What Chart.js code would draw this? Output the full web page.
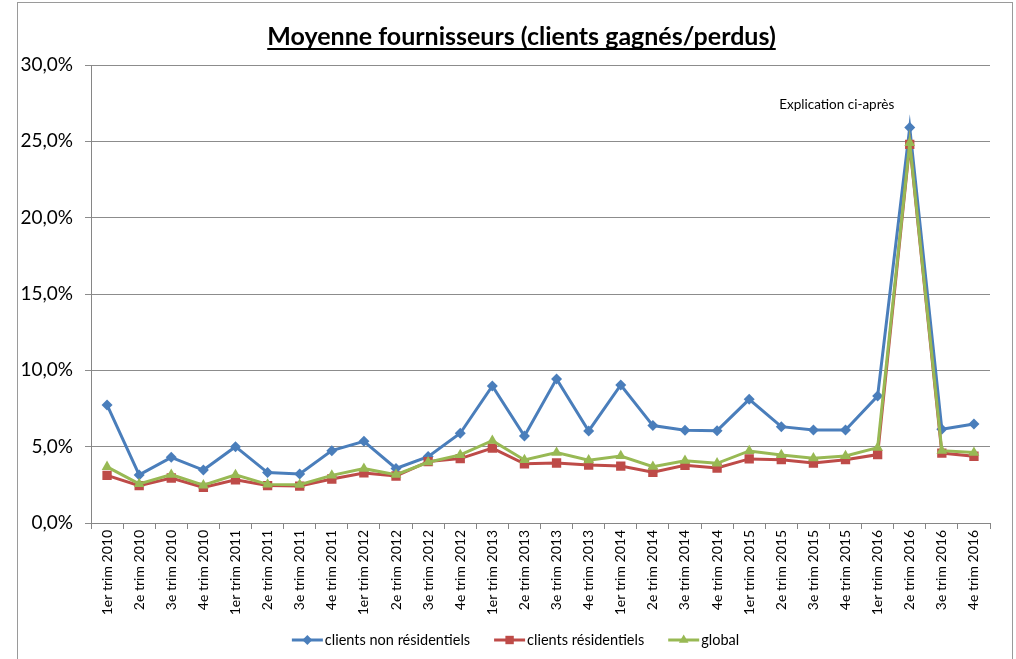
<!DOCTYPE html>
<html>
<head>
<meta charset="utf-8">
<style>
  html, body { margin: 0; padding: 0; background: #ffffff; }
  #wrap { width: 1016px; height: 659px; position: relative; }
</style>
<script src="https://cdn.jsdelivr.net/npm/chart.js@4.4.1/dist/chart.umd.min.js"></script>
</head>
<body>
<div id="wrap"><canvas id="c" width="1016" height="659"></canvas></div>
<script>
const categories = [
  "1er trim 2010", "2e trim 2010", "3e trim 2010", "4e trim 2010",
  "1er trim 2011", "2e trim 2011", "3e trim 2011", "4e trim 2011",
  "1er trim 2012", "2e trim 2012", "3e trim 2012", "4e trim 2012",
  "1er trim 2013", "2e trim 2013", "3e trim 2013", "4e trim 2013",
  "1er trim 2014", "2e trim 2014", "3e trim 2014", "4e trim 2014",
  "1er trim 2015", "2e trim 2015", "3e trim 2015", "4e trim 2015",
  "1er trim 2016", "2e trim 2016", "3e trim 2016", "4e trim 2016"
];
const seriesNames = ["clients non résidentiels", "clients résidentiels", "global"];
const nonResidentiels = [7.73, 3.15, 4.30, 3.47, 5.00, 3.30, 3.21, 4.74, 5.35, 3.57, 4.35, 5.88, 8.98, 5.70, 9.44, 6.03, 9.04, 6.38, 6.07, 6.05, 8.10, 6.31, 6.09, 6.09, 8.32, 25.90, 6.14, 6.49];
const residentiels    = [3.12, 2.45, 2.95, 2.33, 2.83, 2.45, 2.42, 2.88, 3.28, 3.08, 4.02, 4.22, 4.90, 3.88, 3.93, 3.80, 3.73, 3.32, 3.78, 3.60, 4.20, 4.15, 3.93, 4.15, 4.48, 24.80, 4.58, 4.37];
const globalSerie     = [3.68, 2.56, 3.17, 2.47, 3.15, 2.53, 2.51, 3.12, 3.56, 3.17, 3.98, 4.46, 5.39, 4.13, 4.61, 4.11, 4.39, 3.69, 4.08, 3.91, 4.72, 4.46, 4.24, 4.39, 4.94, 24.90, 4.74, 4.61];
const yTickMin = 0, yTickMax = 30, yTickStep = 5;
const chartTitle = "Moyenne fournisseurs (clients gagnés/perdus)";
const annotationText = "Explication ci-après";
const annotationIndex = 25;
const annotationValue = 27.4;

const colors = ["#4A7EBB", "#BE4B48", "#98B954"];
const styles = ["rectRot", "rect", "triangle"];
const radii = [5.5, 6.6, 6.2];
const FONT = "Lato, 'Open Sans', sans-serif";

function drawMarker(ctx, style, x, y, r) {
  ctx.beginPath();
  if (style === 'rectRot') {
    ctx.moveTo(x - r, y); ctx.lineTo(x, y - r); ctx.lineTo(x + r, y); ctx.lineTo(x, y + r);
  } else if (style === 'rect') {
    const s = r * Math.SQRT1_2; ctx.rect(x - s, y - s, 2 * s, 2 * s);
  } else {
    ctx.moveTo(x, y - r); ctx.lineTo(x + r * 0.866, y + r * 0.5); ctx.lineTo(x - r * 0.866, y + r * 0.5);
  }
  ctx.closePath(); ctx.fill();
}

const decorPlugin = {
  id: 'decor',
  beforeDraw(chart) {
    const ctx = chart.ctx;
    ctx.save();
    ctx.strokeStyle = '#9a9a9a'; ctx.lineWidth = 1;
    ctx.strokeRect(17.5, 2.5, 995, 720);
    ctx.restore();
  },
  afterDraw(chart) {
    const ctx = chart.ctx;
    const ca = chart.chartArea;
    ctx.save();
    // title
    ctx.fillStyle = '#000';
    ctx.font = "bold 25px " + FONT;
    ctx.textAlign = 'center';
    ctx.textBaseline = 'alphabetic';
    const cx = (ca.left + ca.right) / 2 - 19;
    ctx.fillText(chartTitle, cx, 45);
    const w = ctx.measureText(chartTitle).width;
    ctx.fillRect(cx - w / 2, 48, w, 2);
    // annotation
    const xs = chart.scales.x, ys = chart.scales.y;
    ctx.font = "13.5px " + FONT;
    ctx.textBaseline = 'middle';
    ctx.fillText(annotationText, xs.getPixelForValue(annotationIndex) - 73, ys.getPixelForValue(annotationValue));
    // legend
    ctx.font = "14.5px " + FONT;
    ctx.textAlign = 'left';
    const iconW = 31, gapText = 2, gapItem = 24, ly = 640;
    const widths = seriesNames.map(n => ctx.measureText(n).width);
    let total = 0;
    widths.forEach((tw, i) => { total += iconW + gapText + tw + (i < widths.length - 1 ? gapItem : 0); });
    let x = (ca.left + ca.right) / 2 - 25 - total / 2;
    seriesNames.forEach((name, i) => {
      ctx.strokeStyle = colors[i]; ctx.fillStyle = colors[i]; ctx.lineWidth = 3;
      ctx.beginPath(); ctx.moveTo(x, ly); ctx.lineTo(x + iconW, ly); ctx.stroke();
      drawMarker(ctx, styles[i], x + iconW / 2, ly, radii[i] * 0.9);
      ctx.fillStyle = '#000';
      ctx.fillText(name, x + iconW + gapText, ly);
      x += iconW + gapText + widths[i] + gapItem;
    });
    ctx.restore();
  }
};

const data = {
  labels: categories,
  datasets: [nonResidentiels, residentiels, globalSerie].map((vals, i) => ({
    label: seriesNames[i],
    data: vals,
    borderColor: colors[i],
    backgroundColor: colors[i],
    borderWidth: 3,
    pointStyle: styles[i],
    pointRadius: radii[i],
    pointHoverRadius: radii[i],
    pointBorderWidth: 0,
    pointBackgroundColor: colors[i],
    tension: 0,
    order: 2 - i
  }))
};

new Chart(document.getElementById('c'), {
  type: 'line',
  data: data,
  plugins: [decorPlugin],
  options: {
    responsive: false,
    animation: false,
    events: [],
    layout: { padding: { left: 0, right: 26, top: 65, bottom: 36 } },
    plugins: {
      title: { display: false },
      tooltip: { enabled: false },
      legend: { display: false }
    },
    scales: {
      x: {
        offset: true,
        afterFit(scale) { scale.height = 100; },
        grid: { display: true, drawOnChartArea: false, drawTicks: true, tickLength: 6, color: '#868686', offset: true },
        border: { display: true, color: '#868686', width: 1 },
        ticks: {
          color: '#000',
          font: { family: FONT, size: 14 },
          minRotation: 90, maxRotation: 90,
          autoSkip: false,
          padding: 1
        }
      },
      y: {
        min: yTickMin, max: yTickMax,
        afterFit(scale) { scale.width = 91; },
        grid: { color: '#8c8c8c', lineWidth: 1, drawTicks: true, tickLength: 6 },
        border: { display: true, color: '#868686', width: 1 },
        ticks: {
          stepSize: yTickStep,
          color: '#000',
          padding: 12,
          font: { family: FONT, size: 19 },
          callback: (v) => v.toFixed(1).replace('.', ',') + '%'
        }
      }
    }
  }
});
</script>
</body>
</html>
